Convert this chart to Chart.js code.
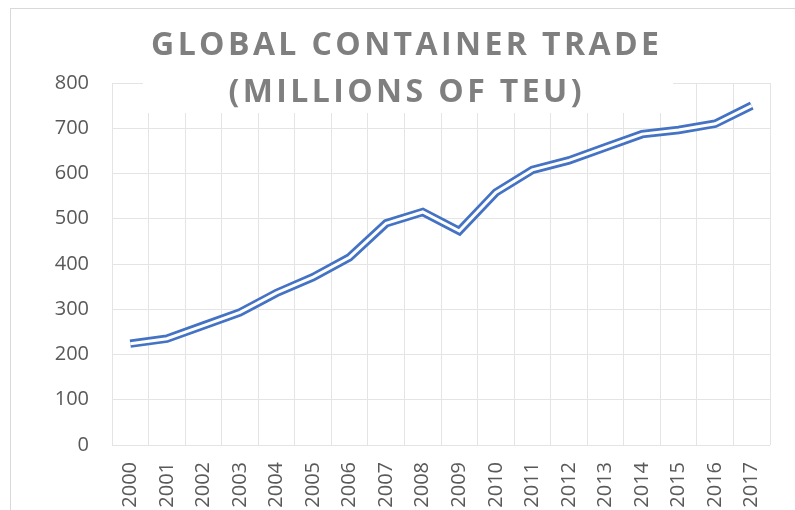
<!DOCTYPE html>
<html>
<head>
<meta charset="utf-8">
<script src="https://cdn.jsdelivr.net/npm/chart.js@4/dist/chart.umd.min.js"></script>
<style>
  html, body { margin: 0; padding: 0; background: #fff; overflow: hidden; }
  #frame { position: absolute; left: 10px; top: 8px; width: 1000px; height: 1000px; border: 1px solid #D9D9D9; }
  #wrap { position: absolute; left: 0; top: 0; width: 795px; height: 510px; }
</style>
</head>
<body>
<div id="frame"></div>
<div id="wrap"><canvas id="teuChart" width="795" height="510"></canvas></div>
<script>
// data
const years = ['2000', '2001', '2002', '2003', '2004', '2005', '2006', '2007', '2008',
  '2009', '2010', '2011', '2012', '2013', '2014', '2015', '2016', '2017'];
const teu = [224, 235, 264, 293, 336, 371, 415, 490, 515, 473, 558, 608, 629, 658, 687, 696, 710, 750];
const titleLines = ['GLOBAL CONTAINER TRADE', '(MILLIONS OF TEU)'];

// Excel-style title that sits over the plot area on a white box
const overlayTitle = {
  id: 'overlayTitle',
  beforeDatasetsDraw(chart) {
    const ctx = chart.ctx;
    const spacing = 3.4;
    ctx.save();
    ctx.fillStyle = '#fff';
    ctx.fillRect(143, 10, 530, 103);
    ctx.fillStyle = '#7F7F7F';
    ctx.font = 'bold 32px "Open Sans"';
    ctx.letterSpacing = spacing + 'px';
    ctx.textAlign = 'left';
    ctx.textBaseline = 'alphabetic';
    const baselines = [55, 102];
    titleLines.forEach((line, i) => {
      const w = ctx.measureText(line).width - spacing;
      ctx.fillText(line, 405 - w / 2, baselines[i]);
    });
    ctx.restore();
  }
};

const gridColor = '#E4E4E4';

new Chart(document.getElementById('teuChart'), {
  type: 'line',
  data: {
    labels: years,
    datasets: [
      {
        // inner white stroke makes the double line
        label: 'gap',
        data: teu,
        borderColor: '#ffffff',
        borderWidth: 3,
        pointRadius: 0,
        tension: 0,
        fill: false
      },
      {
        label: 'Global container trade',
        data: teu,
        borderColor: '#4472C4',
        borderWidth: 8.5,
        pointRadius: 0,
        tension: 0,
        fill: false
      }
    ]
  },
  options: {
    responsive: false,
    animation: false,
    layout: { padding: { top: 83, right: 25, bottom: 0, left: 0 } },
    plugins: {
      legend: { display: false },
      title: { display: false },
      tooltip: { enabled: false }
    },
    scales: {
      x: {
        offset: true,
        grid: { color: gridColor, offset: true, drawTicks: false },
        border: { display: false },
        ticks: {
          autoSkip: false,
          minRotation: 90,
          maxRotation: 90,
          padding: 17,
          color: '#595959',
          font: { family: '"Open Sans"', size: 20 }
        },
        afterFit(scale) { scale.height = 65; }
      },
      y: {
        min: 0,
        max: 800,
        grid: { color: gridColor, drawTicks: false },
        border: { display: false },
        ticks: {
          stepSize: 100,
          padding: 23,
          color: '#595959',
          font: { family: '"Open Sans"', size: 20 }
        },
        afterFit(scale) { scale.width = 112; }
      }
    }
  },
  plugins: [overlayTitle]
});
</script>
</body>
</html>
